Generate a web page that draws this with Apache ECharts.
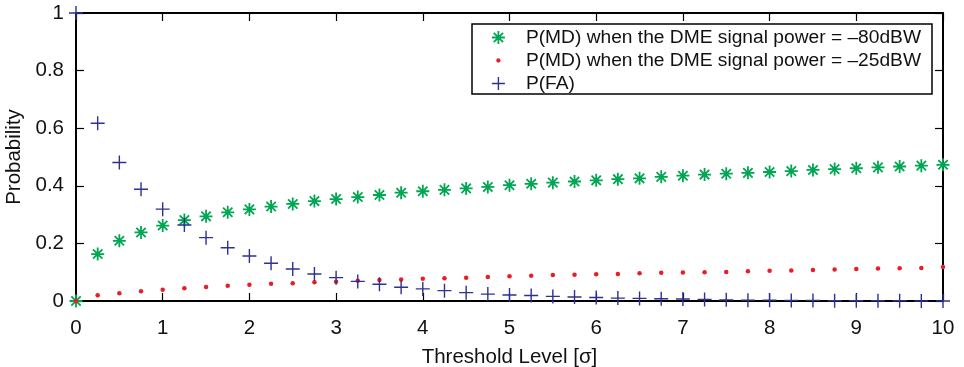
<!DOCTYPE html>
<html><head><meta charset="utf-8">
<script src="https://cdn.jsdelivr.net/npm/echarts@6/dist/echarts.min.js"></script>
<style>html,body{margin:0;padding:0;background:#fff}#c{width:964px;height:367px}</style>
</head><body><div id="c"></div>
<script>
const thresholds = [0,0.25,0.5,0.75,1,1.25,1.5,1.75,2,2.25,2.5,2.75,3,3.25,3.5,3.75,4,4.25,4.5,4.75,5,5.25,5.5,5.75,6,6.25,6.5,6.75,7,7.25,7.5,7.75,8,8.25,8.5,8.75,9,9.25,9.5,9.75,10];
const pmd80 = [0,0.163,0.209,0.238,0.262,0.281,0.294,0.308,0.318,0.328,0.337,0.347,0.354,0.361,0.368,0.376,0.381,0.386,0.391,0.396,0.402,0.407,0.411,0.415,0.419,0.423,0.426,0.431,0.435,0.439,0.442,0.445,0.448,0.451,0.455,0.458,0.461,0.464,0.467,0.470,0.473];
const pmd25 = [0,0.020,0.027,0.034,0.039,0.044,0.049,0.053,0.056,0.060,0.062,0.065,0.067,0.070,0.073,0.075,0.077,0.079,0.081,0.083,0.086,0.088,0.090,0.091,0.093,0.094,0.096,0.098,0.099,0.100,0.101,0.103,0.105,0.106,0.108,0.109,0.111,0.113,0.114,0.115,0.118];
const pfa = [1,0.617,0.481,0.388,0.319,0.264,0.220,0.185,0.156,0.131,0.111,0.094,0.081,0.068,0.058,0.048,0.042,0.036,0.029,0.024,0.021,0.019,0.016,0.014,0.012,0.010,0.009,0.008,0.007,0.005,0.004,0.003,0.003,0.002,0.002,0.001,0.001,0.001,0.001,0.000,0.000];
const seriesNames = ['P(MD) when the DME signal power = \u201380dBW','P(MD) when the DME signal power = \u201325dBW','P(FA)'];
const xName = 'Threshold Level [\u03c3]';
const yName = 'Probability';

const FONT = '"Liberation Sans",Arial,sans-serif';
const GREEN = '#00a651', RED = '#ed1c24', BLUE = '#2e3192';
const ASTER = 'path://M0,-1L0,1M-1,0L1,0M-0.72,-0.72L0.72,0.72M-0.72,0.72L0.72,-0.72';
const PLUS = 'path://M0,-1L0,1M-1,0L1,0';
const DOT = 'path://M-6,-6L-6,-6M6,6L6,6M-2,0A2,2,0,1,1,2,0A2,2,0,1,1,-2,0Z';
const pts = a => thresholds.map((x,i)=>[x,a[i]]);
const tr = 'rgba(0,0,0,0)';

const axisCommon = {
  axisLine:{show:true,onZero:false,lineStyle:{color:'#000',width:2}},
  axisTick:{show:true,inside:true,length:8,lineStyle:{color:'#000',width:1.2}},
  splitLine:{show:false}
};
const chart = echarts.init(document.getElementById('c'),null,{renderer:'canvas'});
chart.setOption({
  animation:false,
  backgroundColor:'#fff',
  grid:{left:76,right:21,top:13,bottom:66,containLabel:false,outerBoundsMode:'none'},
  xAxis:[
    Object.assign({type:'value',min:0,max:10,interval:1,position:'bottom',
      name:xName,nameLocation:'middle',nameGap:46,
      nameTextStyle:{fontFamily:FONT,fontSize:20.5,color:'#111'},
      axisLabel:{fontFamily:FONT,fontSize:20.5,color:'#111',margin:17}},axisCommon),
    Object.assign({type:'value',min:0,max:10,interval:1,position:'top',axisLabel:{show:false}},axisCommon)
  ],
  yAxis:[
    Object.assign({type:'value',min:0,max:1,interval:0.2,position:'left',
      name:yName,nameLocation:'middle',nameGap:50,
      nameTextStyle:{fontFamily:FONT,fontSize:20.5,color:'#111'},
      axisLabel:{fontFamily:FONT,fontSize:20.5,color:'#111',margin:12}},axisCommon),
    Object.assign({type:'value',min:0,max:1,interval:0.2,position:'right',axisLabel:{show:false}},axisCommon)
  ],
  legend:{
    orient:'vertical',left:472,top:24,
    backgroundColor:'#fff',borderColor:'#000',borderWidth:1.5,borderRadius:0,
    padding:[4,11,1,19],itemGap:4,itemWidth:45,itemHeight:13,symbolKeepAspect:true,
    textStyle:{fontFamily:FONT,fontSize:19.2,color:'#111'},
    data:[
      {name:seriesNames[0],icon:ASTER,itemStyle:{color:tr,borderColor:GREEN,borderWidth:1.8}},
      {name:seriesNames[1],icon:DOT,itemStyle:{color:RED,borderWidth:0}},
      {name:seriesNames[2],icon:PLUS,itemStyle:{color:tr,borderColor:BLUE,borderWidth:1.4}}
    ]
  },
  series:[
    {name:seriesNames[0],type:'scatter',data:pts(pmd80),symbol:ASTER,symbolSize:13,
      itemStyle:{color:tr,borderColor:GREEN,borderWidth:1.8,opacity:1}},
    {name:seriesNames[1],type:'scatter',data:pts(pmd25),symbol:'circle',symbolSize:4.5,
      itemStyle:{color:RED,opacity:1}},
    {name:seriesNames[2],type:'scatter',data:pts(pfa),symbol:PLUS,symbolSize:14,
      itemStyle:{color:tr,borderColor:BLUE,borderWidth:1.4,opacity:1}}
  ]
});
</script>
</body></html>
